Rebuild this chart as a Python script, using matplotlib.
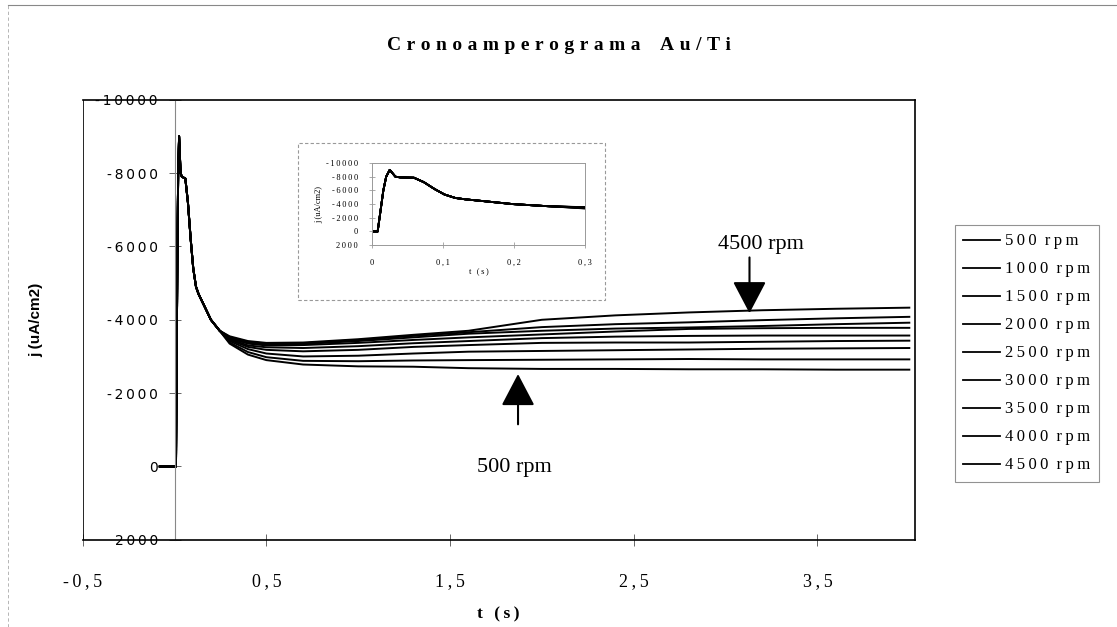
import matplotlib
matplotlib.use("Agg")
import matplotlib.pyplot as plt
from matplotlib.lines import Line2D
from matplotlib.patches import Rectangle
from matplotlib.ticker import FuncFormatter

SERIF = "Liberation Serif"
SANS = "Liberation Sans"

# common start of the transient (s, uA/cm2)
t_start = [-0.08, 0.0, 0.008, 0.012, 0.016, 0.02, 0.025, 0.033, 0.04, 0.059, 0.073, 0.088,
           0.102, 0.117, 0.131, 0.16, 0.198, 0.246]
j_start = [0, 0, 0, -3000, -6000, -8000, -9000, -8000, -7900, -7850, -7200, -6200,
           -5400, -4900, -4700, -4400, -4000, -3700]

# after 0.3 s the curves separate
t_late = [0.3, 0.4, 0.5, 0.7, 1.0, 1.3, 1.6, 2.0, 2.4, 2.8, 3.2, 3.6, 4.0]
rpm = [500, 1000, 1500, 2000, 2500, 3000, 3500, 4000, 4500]
j_500 = [-3350, -3050, -2900, -2780, -2730, -2720, -2680, -2660, -2660, -2650, -2650, -2640, -2640]
j_1000 = [-3380, -3120, -2980, -2880, -2870, -2890, -2900, -2910, -2920, -2930, -2920, -2920, -2920]
j_1500 = [-3420, -3200, -3080, -3000, -3020, -3080, -3130, -3150, -3170, -3190, -3210, -3220, -3230]
j_2000 = [-3450, -3260, -3180, -3140, -3180, -3260, -3310, -3370, -3380, -3380, -3400, -3420, -3430]
j_2500 = [-3480, -3300, -3250, -3230, -3280, -3360, -3420, -3500, -3540, -3560, -3570, -3570, -3570]
j_3000 = [-3500, -3350, -3300, -3310, -3370, -3450, -3520, -3600, -3680, -3750, -3770, -3780, -3780]
j_3500 = [-3520, -3380, -3330, -3340, -3420, -3520, -3620, -3700, -3760, -3790, -3830, -3880, -3920]
j_4000 = [-3530, -3400, -3350, -3360, -3450, -3560, -3660, -3800, -3880, -3930, -3990, -4040, -4080]
j_4500 = [-3550, -3420, -3370, -3380, -3470, -3590, -3700, -4000, -4120, -4200, -4260, -4300, -4330]
curves = [j_500, j_1000, j_1500, j_2000, j_2500, j_3000, j_3500, j_4000, j_4500]

x_ticks = [-0.5, 0.5, 1.5, 2.5, 3.5]
y_ticks = [-10000, -8000, -6000, -4000, -2000, 0, 2000]
inset_x_ticks = [0, 0.1, 0.2, 0.3]


def spaced(s, gap="\u2009"):
    return gap.join(s)


def comma(v, pos=None):
    if abs(v - round(v)) < 1e-9:
        return spaced(str(int(round(v))))
    return spaced(("%g" % v).replace(".", ","))


fig = plt.figure(figsize=(11.17, 6.27), dpi=100)

# faint page border
fig.add_artist(Line2D([0.007, 1.0], [0.992, 0.992], transform=fig.transFigure, color="#888888", lw=0.8))
fig.add_artist(Line2D([0.007, 0.007], [0.0, 0.992], transform=fig.transFigure, color="#aaaaaa", lw=0.6, ls=(0, (4, 3))))

ax = fig.add_axes([0.074, 0.139, 0.745, 0.702])
t_all = t_start + t_late
for j in curves:
    ax.plot(t_all, j_start + j, color="black", lw=1.4)

ax.set_xlim(-0.5, 4.03)
ax.set_ylim(2000, -10000)
ax.set_xticks(x_ticks)
ax.set_yticks(y_ticks)
ax.xaxis.set_major_formatter(FuncFormatter(comma))
ax.yaxis.set_major_formatter(FuncFormatter(comma))
for lab in ax.get_xticklabels() + ax.get_yticklabels():
    lab.set_fontfamily(SERIF)
    lab.set_fontsize(13)

# y axis crosses at t = 0
ax.spines["left"].set_position(("data", 0))
ax.spines["left"].set_color("#888888")
ax.spines["left"].set_linewidth(0.8)
ax.add_artist(Line2D([0, 0], [0, 1], transform=ax.transAxes, color="black", lw=1.2))
for s in ["top", "right", "bottom"]:
    ax.spines[s].set_linewidth(1.2)
ax.tick_params(axis="y", direction="inout", length=8, width=0.7, color="#666666", pad=8)
ax.tick_params(axis="x", direction="inout", length=8, width=0.7, color="#666666", pad=20)

ax.set_xlabel(spaced("t (s)"), fontfamily=SERIF, fontweight="bold", fontsize=12.5, labelpad=12)
fig.text(0.032, 0.49, "j (uA/cm2)", rotation=90, ha="center", va="center",
         fontfamily=SANS, fontweight="bold", fontsize=11)
fig.text(0.50, 0.928, spaced("Cronoamperograma", "\u2009\u200a") + "\u2002\u2002" + spaced("Au/Ti", "\u2009\u200a"),
         ha="center", va="center", fontfamily=SERIF, fontweight="bold", fontsize=14)

# arrows
ax.text(3.19, -6050, "4500 rpm", ha="center", va="center", fontfamily=SERIF, fontsize=16)
ax.annotate("", xy=(3.13, -4180), xytext=(3.13, -5700),
            arrowprops=dict(arrowstyle="-|>,head_length=0.8,head_width=0.42", mutation_scale=25,
                            color="black", lw=1.5, shrinkA=0, shrinkB=0))
ax.text(1.85, 30, "500 rpm", ha="center", va="center", fontfamily=SERIF, fontsize=16)
ax.annotate("", xy=(1.87, -2520), xytext=(1.87, -1150),
            arrowprops=dict(arrowstyle="-|>,head_length=0.8,head_width=0.42", mutation_scale=25,
                            color="black", lw=1.5, shrinkA=0, shrinkB=0))

# legend
handles = [Line2D([], [], color="black", lw=1.3) for _ in rpm]
labels = [spaced(str(r)) + "  " + spaced("rpm") for r in rpm]
leg = fig.legend(handles, labels, loc="upper left", bbox_to_anchor=(0.855, 0.641),
                 bbox_transform=fig.transFigure, frameon=True, fancybox=False,
                 prop={"family": SERIF, "size": 12}, handlelength=2.2, handletextpad=0.3,
                 labelspacing=0.72, borderpad=0.5, borderaxespad=0)
leg.get_frame().set_edgecolor("#777777")
leg.get_frame().set_linewidth(0.8)

# inset with the first 0.3 s
fig.add_artist(Rectangle((0.267, 0.522), 0.275, 0.250, transform=fig.transFigure, fill=False,
                         edgecolor="#999999", lw=0.8, ls=(0, (3, 2))))
ins = fig.add_axes([0.333, 0.609, 0.191, 0.131])
for j in curves:
    ins.plot(t_all, j_start + j, color="black", lw=1.3)
ins.set_xlim(0, 0.3)
ins.set_ylim(2000, -10000)
ins.set_xticks(inset_x_ticks)
ins.set_yticks(y_ticks)
ins.xaxis.set_major_formatter(FuncFormatter(comma))
ins.yaxis.set_major_formatter(FuncFormatter(comma))
for lab in ins.get_xticklabels() + ins.get_yticklabels():
    lab.set_fontfamily(SERIF)
    lab.set_fontsize(6)
for s in ins.spines.values():
    s.set_color("#999999")
    s.set_linewidth(0.7)
ins.tick_params(direction="inout", length=4, width=0.5, color="#888888", pad=8)
ins.set_xlabel(spaced("t (s)"), fontfamily=SERIF, fontsize=6, labelpad=1)
ins.set_ylabel("j (uA/cm2)", fontfamily=SERIF, fontsize=6, labelpad=2)

fig.savefig("out.png", dpi=100)
